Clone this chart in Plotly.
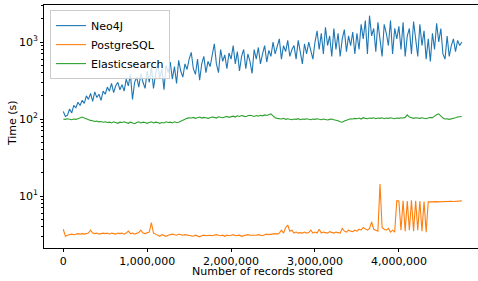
import plotly.graph_objects as go

# x positions: number of records stored (sampled every 25,000 records)
records = list(range(0, 4750001, 25000))

neo4j = [
    125, 108, 112, 135, 120, 150, 140, 165, 150, 175,
    160, 200, 180, 215, 170, 225, 190, 210, 175, 230,
    210, 260, 230, 290, 220, 270, 300, 240, 280, 230,
    330, 270, 380, 180, 300, 350, 260, 390, 300, 250,
    420, 300, 470, 250, 380, 520, 340, 450, 240, 500,
    400, 550, 330, 480, 290, 580, 420, 350, 520, 440,
    600, 735, 450, 380, 600, 320, 520, 650, 400, 560,
    480, 700, 950, 520, 400, 800, 560, 680, 450, 720,
    600, 900, 520, 750, 420, 650, 800, 450, 700, 560,
    390, 800, 600, 850, 520, 700, 900, 550, 780, 650,
    1000, 700, 850, 1100, 600, 900, 750, 1050, 650, 800,
    900, 600, 1050, 750, 520, 950, 700, 1000, 800, 600,
    1000, 1400, 800, 1300, 700, 1550, 900, 1200, 650, 1500,
    800, 1300, 650, 1100, 1450, 750, 1200, 900, 1350, 700,
    1300, 800, 1700, 1100, 1900, 700, 2200, 1200, 1500, 750,
    1800, 1000, 650, 1700, 1300, 900, 1900, 700, 1500, 1100,
    1600, 800, 1800, 650, 1200, 1500, 700, 1850, 1000, 650,
    1700, 900, 1400, 600, 1100, 560, 1300, 800, 1750, 1000,
    1500, 700, 600, 1200, 650, 900, 1100, 750, 1050, 900, 1000,
]

postgresql = [
    3.7, 3.0, 3.1, 3.15, 3.2, 3.15, 3.2, 3.25, 3.2, 3.25,
    3.2, 3.25, 3.3, 3.6, 3.3, 3.25, 3.3, 3.2, 3.25, 3.3,
    3.25, 3.3, 3.2, 3.3, 3.25, 3.2, 3.3, 3.25, 3.3, 3.2,
    3.3, 3.5, 3.25, 3.3, 3.2, 3.3, 3.35, 3.6, 3.3, 3.25,
    3.3, 3.4, 4.5, 3.3, 3.2, 3.1, 3.0, 3.15, 3.1, 3.0,
    3.1, 3.15, 3.2, 3.15, 3.1, 3.2, 3.15, 3.1, 3.15, 3.1,
    3.1, 3.05, 3.0, 3.1, 3.0, 2.95, 3.05, 3.1, 3.05, 3.1,
    3.1, 3.05, 3.1, 3.15, 3.1, 3.05, 3.1, 3.0, 3.1, 3.05,
    3.1, 3.15, 3.05, 3.1, 3.1, 3.0, 3.05, 3.1, 3.15, 3.1,
    3.1, 3.05, 3.1, 3.15, 3.1, 3.05, 3.15, 3.2, 3.15, 3.2,
    3.2, 3.25, 3.2, 3.3, 3.6, 3.3, 3.9, 4.2, 3.5, 3.6,
    3.3, 3.4, 3.3, 3.35, 3.3, 3.4, 3.3, 3.35, 3.6, 3.3,
    3.4, 3.3, 3.7, 3.3, 3.4, 3.35, 3.3, 3.45, 3.4, 3.3,
    3.4, 3.35, 3.3, 3.8, 3.5, 3.4, 3.6, 3.5, 3.45, 3.6,
    3.5, 3.7, 3.6, 3.9, 3.7, 3.6, 3.8, 4.6, 3.7, 3.6,
    3.5, 14.3, 3.9, 3.7, 3.6, 3.8, 3.4, 3.6, 3.4, 8.7,
    8.6, 3.6, 8.7, 3.5, 8.6, 3.6, 8.8, 3.5, 8.7, 3.6,
    8.6, 3.5, 8.5, 3.4, 8.4, 8.4, 8.45, 8.4, 8.45, 8.4,
    8.45, 8.5, 8.45, 8.5, 8.5, 8.55, 8.5, 8.55, 8.6, 8.7, 8.65,
]

elasticsearch = [
    100, 99, 101, 100, 98, 100, 99, 101, 104, 106,
    103, 100, 97, 96, 95, 93, 94, 92, 93, 91,
    92, 90, 91, 89, 92, 90, 88, 91, 90, 92,
    90, 88, 91, 89, 87, 90, 92, 89, 91, 90,
    88, 90, 92, 89, 91, 90, 88, 90, 89, 92,
    90, 91, 89, 92, 90, 91, 94, 96, 99, 102,
    104, 103, 105, 102, 104, 106, 103, 105, 104, 102,
    104, 106, 105, 103, 107, 105, 104, 106, 108, 105,
    107, 109, 106, 110, 108, 111, 109, 107, 110, 112,
    110, 108, 111, 109, 112, 110, 113, 111, 114, 117,
    110, 104, 102, 101, 100, 102, 99, 101, 100, 98,
    100, 99, 101, 98, 100, 99, 101, 100, 98, 100,
    99, 101, 100, 98, 100, 99, 97, 99, 100, 98,
    97, 95, 92, 91, 94, 97, 99, 101, 100, 102,
    101, 103, 100, 104, 102, 101, 103, 102, 104, 101,
    103, 102, 104, 101, 103, 102, 104, 103, 101, 103,
    102, 104, 103, 105, 113, 106, 103, 102, 104, 103,
    102, 104, 103, 101, 103, 105, 104, 110, 114, 117,
    108, 103, 100, 101, 99, 100, 102, 104, 106, 107, 108,
]

x_ticks = [0, 1000000, 2000000, 3000000, 4000000]
y_ticks = [10, 100, 1000]
y_tick_labels = ["10<sup>1</sup>", "10<sup>2</sup>", "10<sup>3</sup>"]

FONT = "DejaVu Sans"
fig = go.Figure()
fig.add_trace(go.Scatter(x=records, y=neo4j, mode="lines", name="Neo4J",
                         line=dict(color="#1f77b4", width=1.1)))
fig.add_trace(go.Scatter(x=records, y=postgresql, mode="lines", name="PostgreSQL",
                         line=dict(color="#ff7f0e", width=1.1)))
fig.add_trace(go.Scatter(x=records, y=elasticsearch, mode="lines", name="Elasticsearch",
                         line=dict(color="#2ca02c", width=1.1)))

fig.update_layout(
    template="none",
    width=478, height=281,
    margin=dict(l=44, r=0, t=5, b=33, pad=0, autoexpand=False),
    paper_bgcolor="white", plot_bgcolor="white",
    font=dict(family=FONT, size=11, color="#000000"),
    showlegend=True,
    legend=dict(x=0.0138, y=0.979, xanchor="left", yanchor="top",
                bgcolor="rgba(255,255,255,0.8)", bordercolor="#cccccc", borderwidth=1,
                font=dict(family=FONT, size=11), itemwidth=30, tracegroupgap=0),
    xaxis=dict(range=[-230000, 4943000], tickvals=x_ticks, tickformat=",d",
               automargin=False,
               showgrid=False, zeroline=False, showline=True, linecolor="black",
               linewidth=1, mirror=True, ticks="outside", ticklen=3, tickcolor="black",
               tickfont=dict(size=11)),
    yaxis=dict(type="log", range=[0.325, 3.481], tickvals=y_ticks, ticktext=y_tick_labels,
               automargin=False,
               showgrid=False, zeroline=False, showline=True, linecolor="black",
               linewidth=1, ticks="outside", ticklen=3, tickcolor="black",
               tickfont=dict(size=11),
               minor=dict(ticks="outside", ticklen=2, tickcolor="black", dtick="D1",
                          showgrid=False)),
    annotations=[
        dict(text="Number of records stored", x=0.5035, y=-0.098, xref="paper", yref="paper",
             showarrow=False, xanchor="center", yanchor="middle", font=dict(size=11)),
        dict(text="Time (s)", x=-0.0737, y=0.514, xref="paper", yref="paper",
             showarrow=False, xanchor="center", yanchor="middle", textangle=-90,
             font=dict(size=11)),
    ],
)

fig.write_html(
    "out.html",
    config={"displayModeBar": False},
    post_script="document.body.style.margin='0';document.body.style.overflow='hidden';",
)
